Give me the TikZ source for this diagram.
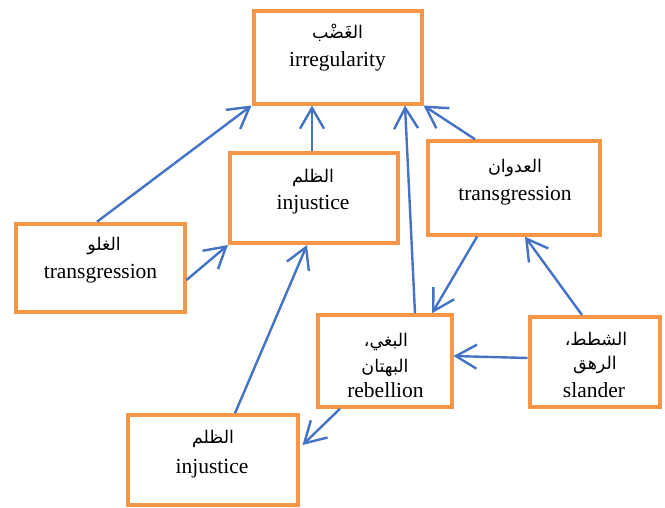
\documentclass[tikz,border=0pt]{standalone}
\usepackage{fontspec}
\setmainfont{Liberation Serif}
\newfontfamily\arabicfont[Script=Arabic]{DejaVu Sans}
\TeXXeTstate=1
\usetikzlibrary{arrows.meta,calc}
\definecolor{boxorange}{RGB}{247,150,70}
\definecolor{arrowblue}{RGB}{68,114,196}
\begin{document}
\begin{tikzpicture}[x=1pt,y=-1pt,
  box/.style={draw=boxorange, line width=4pt, inner sep=0pt},
  en/.style={anchor=base, inner sep=0pt, font=\fontsize{21.5}{24}\selectfont},
  ar/.style={anchor=base, inner sep=0pt, font=\fontsize{17.5}{20}\arabicfont},
  conn/.style={draw=arrowblue, line width=2.4pt, -{Straight Barb[angle=60:24pt, line join=miter]}}]
\useasboundingbox (0,0) rectangle (665,507);

% boxes
\node[box, minimum width=168pt, minimum height=93pt] (a) at (337.5,57) {};
\node[box, minimum width=168pt, minimum height=90pt] (b) at (314,198) {};
\node[box, minimum width=172pt, minimum height=93.5pt] (c) at (513.5,188) {};
\node[box, minimum width=169pt, minimum height=88.5pt] (d) at (100,268) {};
\node[box, minimum width=134pt, minimum height=91.5pt] (e) at (384.5,361) {};
\node[box, minimum width=130pt, minimum height=90pt] (f) at (594.5,362) {};
\node[box, minimum width=170pt, minimum height=89.5pt] (g) at (212.5,460) {};

% texts
\node[ar] (a1) at (337.5,38) {\beginR الغَضْب\endR};
\node[en] (a2) at (337.5,66) {irregularity};
\node[ar] (b1) at (313,182) {\beginR الظلم\endR};
\node[en] (b2) at (313,209) {injustice};
\node[ar] (c1) at (515,172) {\beginR العدوان\endR};
\node[en] (c2) at (515,200) {transgression};
\node[ar] (d1) at (104,250) {\beginR الغلو\endR};
\node[en] (d2) at (100.5,278) {transgression};
\node[ar] (e1) at (386,346) {\beginR البغي،\endR};
\node[ar] (e2) at (385,372) {\beginR البهتان\endR};
\node[en] (e3) at (385.5,397) {rebellion};
\node[ar] (f1) at (596,345) {\beginR الشطط،\endR};
\node[ar] (f2) at (595,369) {\beginR الرهق\endR};
\node[en] (f3) at (594,397) {slander};
\node[ar] (g1) at (213,443) {\beginR الظلم\endR};
\node[en] (g2) at (212,473) {injustice};

% connectors
\draw[conn] ($(d.north)+(-3,0)$) -- (a.south west);
\draw[conn] ($(d.east)+(0,12)$) -- (b.south west);
\draw[conn] ($(b.north)+(-2,0)$) -- ($(a.south)+(-25.5,0)$);
\draw[conn] ($(e.north)+(30.5,0)$) -- ($(a.south)+(67.5,0)$);
\draw[conn] ($(c.north)+(-38.5,0)$) -- (a.south east);
\draw[conn] ($(c.south)+(-36.5,0)$) -- ($(e.north)+(47.5,0)$);
\draw[conn] ($(f.north)+(-12.5,0)$) -- ($(c.south)+(11.5,0)$);
\draw[conn] ($(f.west)+(0,-4)$) -- ($(e.east)+(0,-5)$);
\draw[conn] ($(g.north)+(22.5,0)$) -- ($(b.south)+(-7,0)$);
\draw[conn] ($(e.south)+(-44.5,0)$) -- ($(g.east)+(3,-15)$);
\end{tikzpicture}
\end{document}
